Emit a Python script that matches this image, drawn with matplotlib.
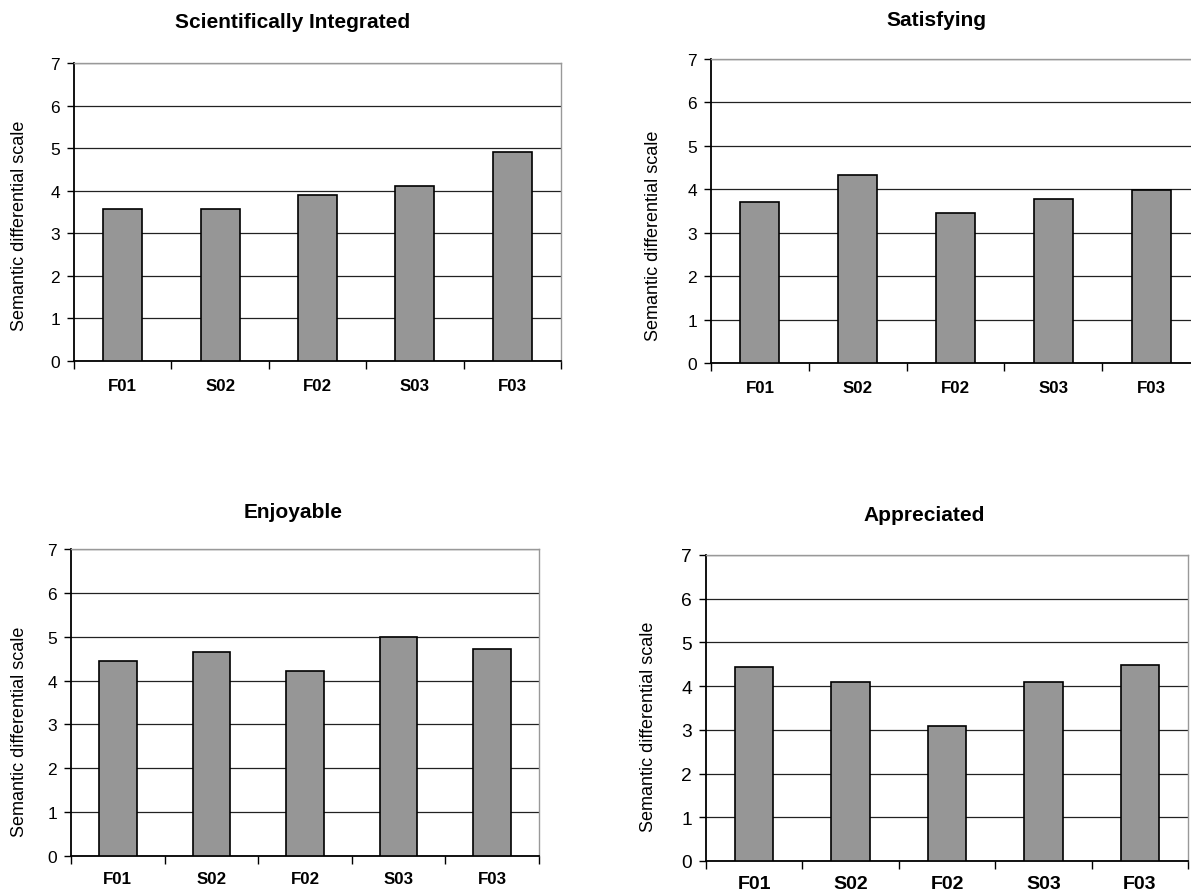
import matplotlib
matplotlib.use("Agg")
import matplotlib.pyplot as plt
from matplotlib.ticker import FixedLocator

plt.rcParams['font.family'] = ['Liberation Sans', 'DejaVu Sans']

categories = ["F01", "S02", "F02", "S03", "F03"]
titles = ["Scientifically Integrated", "Satisfying", "Enjoyable", "Appreciated"]
sci_integrated = [3.56, 3.56, 3.89, 4.10, 4.91]
satisfying = [3.71, 4.34, 3.45, 3.77, 3.99]
enjoyable = [4.44, 4.66, 4.21, 5.00, 4.71]
appreciated = [4.43, 4.09, 3.08, 4.09, 4.49]
series = [sci_integrated, satisfying, enjoyable, appreciated]
ylabel = "Semantic differential scale"
yticks = [0, 1, 2, 3, 4, 5, 6, 7]

W, H = 1191, 895
fig = plt.figure(figsize=(W / 100, H / 100), dpi=100)

# panel layout in pixels
panels = [
    dict(l=74, r=561, t=64, b=362, tx=293, ty=23, yx=20, yy=226, tk=12.5, xl=12.2, xpad=12.5),
    dict(l=711, r=1200, t=60, b=364, tx=936, ty=20, yx=653, yy=236, tk=12.5, xl=12.2, xpad=12.5),
    dict(l=71, r=539, t=550, b=857, tx=293, ty=513, yx=20, yy=732, tk=12.5, xl=12.2, xpad=11),
    dict(l=706, r=1188, t=556, b=862, tx=924, ty=516, yx=648, yy=727, tk=13.8, xl=14.0, xpad=10),
]

for p, vals, title in zip(panels, series, titles):
    ax = fig.add_axes([p['l'] / W, 1 - p['b'] / H, (p['r'] - p['l']) / W, (p['b'] - p['t']) / H])
    x = list(range(len(categories)))
    ax.bar(x, vals, width=0.4, color='#969696', edgecolor='black', linewidth=1.2, zorder=3)
    ax.set_xlim(-0.5, len(categories) - 0.5)
    ax.set_ylim(0, 7)
    ax.set_yticks(yticks)
    ax.yaxis.grid(True, color='#222222', linewidth=0.9, zorder=0)
    ax.set_axisbelow(True)
    ax.set_xticks(x)
    ax.set_xticklabels(categories, fontweight='bold', fontsize=p['xl'])
    ax.xaxis.set_minor_locator(FixedLocator([i - 0.5 for i in range(len(categories) + 1)]))
    ax.tick_params(axis='x', which='major', length=0, pad=p['xpad'])
    ax.tick_params(axis='x', which='minor', length=6, width=1.0, direction='out', color='black')
    ax.tick_params(axis='y', which='major', length=5, width=1.0, direction='out', labelsize=p['tk'], pad=5)
    for s in ['left', 'bottom']:
        ax.spines[s].set_color('black')
        ax.spines[s].set_linewidth(1.3)
    for s in ['top', 'right']:
        ax.spines[s].set_color('#999999')
        ax.spines[s].set_linewidth(1.0)
    fig.text(p['tx'] / W, 1 - p['ty'] / H, title, ha='center', va='center',
             fontsize=15, fontweight='bold')
    fig.text(p['yx'] / W, 1 - p['yy'] / H, ylabel, ha='center', va='center',
             rotation=90, fontsize=13)

fig.savefig("out.png", dpi=100)
